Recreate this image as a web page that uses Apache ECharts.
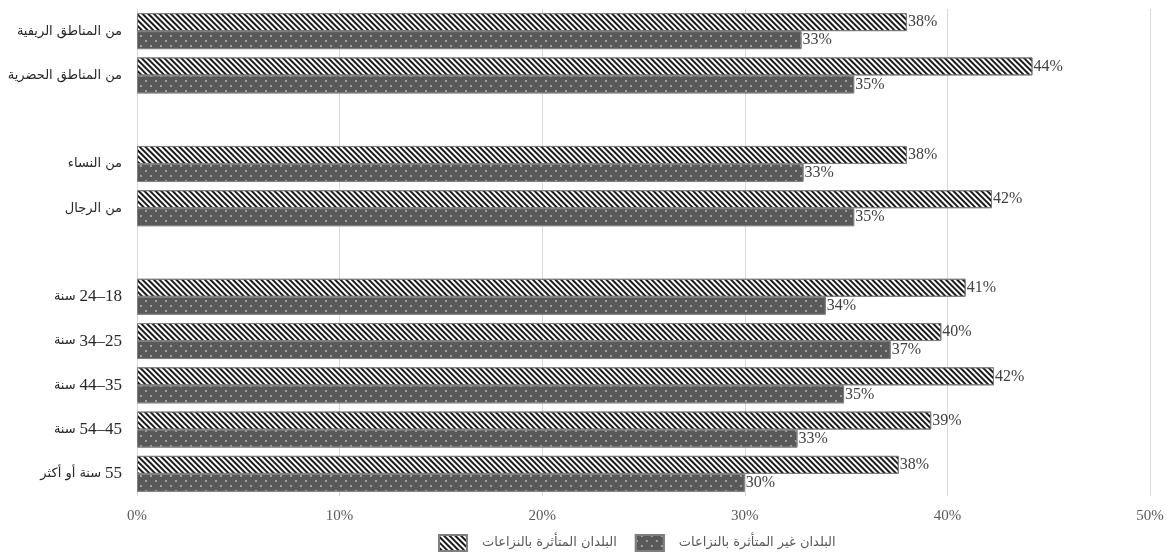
<!DOCTYPE html>
<html>
<head>
<meta charset="utf-8">
<script src="https://cdn.jsdelivr.net/npm/echarts@6/dist/echarts.min.js"></script>
<style>
  html, body { margin: 0; padding: 0; background: #fff; }
  #chart { width: 1168px; height: 555px; }
</style>
</head>
<body>
<div id="chart"></div>
<script>
  // categories top to bottom, empty strings are the spacer rows
  var categories = [
    'من المناطق الريفية',
    'من المناطق الحضرية',
    '',
    'من النساء',
    'من الرجال',
    '',
    '24–18 سنة',
    '34–25 سنة',
    '44–35 سنة',
    '54–45 سنة',
    '55 سنة أو أكثر'
  ];
  var seriesNames = ['البلدان المتأثرة بالنزاعات', 'البلدان غير المتأثرة بالنزاعات'];
  var conflictValues = [38.0, 44.2, null, 38.0, 42.2, null, 40.9, 39.7, 42.3, 39.2, 37.6];
  var nonConflictValues = [32.8, 35.4, null, 32.9, 35.4, null, 34.0, 37.2, 34.9, 32.6, 30.0];
  var xTicks = { min: 0, max: 50, interval: 10 };

  var serif = "'Liberation Serif', 'DejaVu Sans', serif";
  var sans = "'DejaVu Sans', sans-serif";

  var chart = echarts.init(document.getElementById('chart'));

  var labelOpt = {
    show: true,
    position: 'right',
    distance: 1,
    color: '#404040',
    fontFamily: serif,
    fontSize: 16,
    formatter: function(p) { return Math.round(p.value) + '%'; }
  };

  // numbers sit on the right of the arabic words, as in the RTL original
  function catLabel(v) {
    var m = /^([\d–]+) (.*)$/.exec(v);
    if (!m) return '{ar|' + v + '}';
    return '{ar|' + m[2] + '} {num|' + m[1] + '}';
  }

  chart.setOption({
    animation: false,
    textStyle: { fontFamily: sans },
    grid: { left: 137, right: 18, top: 9, bottom: 59, containLabel: false, outerBoundsMode: 'none' },
    legend: {
      top: 529,
      left: 433,
      icon: 'rect',
      itemWidth: 28,
      itemHeight: 16,
      itemGap: 18,
      textStyle: { color: '#595959', fontSize: 13, fontFamily: sans, padding: [0, 0, 0, 10] },
      data: seriesNames
    },
    xAxis: {
      type: 'value',
      min: xTicks.min,
      max: xTicks.max,
      interval: xTicks.interval,
      axisLine: { show: false },
      axisTick: { show: false },
      axisLabel: {
        color: '#595959',
        fontFamily: serif,
        fontSize: 15,
        margin: 13,
        formatter: '{value}%'
      },
      splitLine: { lineStyle: { color: '#d9d9d9', width: 1 } }
    },
    yAxis: {
      type: 'category',
      inverse: true,
      data: categories,
      axisLine: { show: true, lineStyle: { color: '#d9d9d9', width: 1 } },
      axisTick: { show: false },
      axisLabel: {
        margin: 15,
        interval: 0,
        formatter: catLabel,
        rich: {
          ar: { color: '#262626', fontFamily: sans, fontSize: 13 },
          num: { color: '#262626', fontFamily: serif, fontSize: 17 }
        }
      }
    },
    series: [
      {
        name: seriesNames[0],
        type: 'bar',
        barWidth: 18,
        barGap: '0%',
        data: conflictValues,
        itemStyle: {
          color: '#ffffff',
          borderColor: '#7f7f7f',
          borderWidth: 1,
          decal: {
            symbol: 'rect',
            color: '#1a1a1a',
            dashArrayX: [1, 0],
            dashArrayY: [1.5, 1.5],
            rotation: Math.PI / 4
          }
        },
        label: labelOpt
      },
      {
        name: seriesNames[1],
        type: 'bar',
        barWidth: 18,
        barGap: '0%',
        data: nonConflictValues,
        itemStyle: {
          color: '#595959',
          borderColor: '#7f7f7f',
          borderWidth: 1,
          decal: {
            symbol: 'circle',
            color: '#b8b8b8',
            symbolSize: 1,
            dashArrayX: [[2, 8], [0, 5, 2, 3]],
            dashArrayY: [2, 3]
          }
        },
        label: labelOpt
      }
    ]
  });
  window.addEventListener('resize', function() { chart.resize(); });
</script>
</body>
</html>
